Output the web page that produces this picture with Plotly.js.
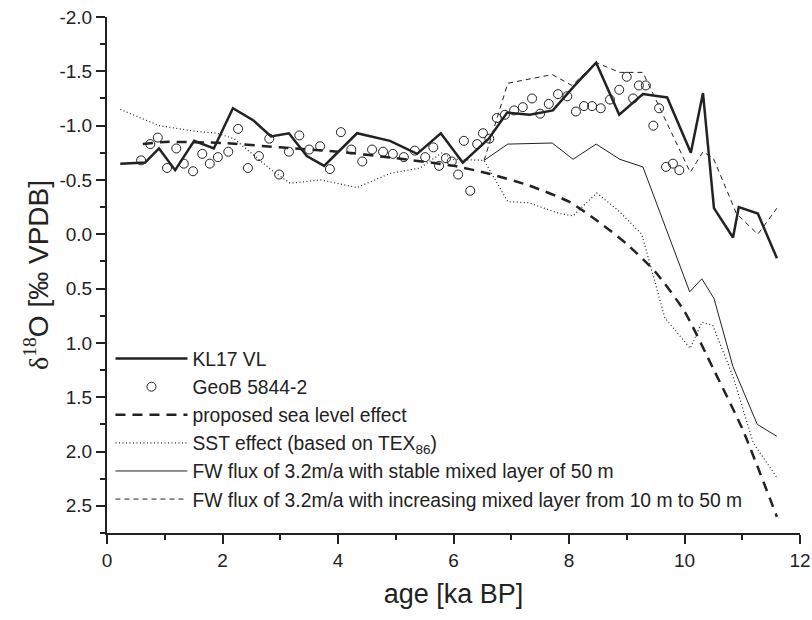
<!DOCTYPE html>
<html>
<head>
<meta charset="utf-8">
<script src="https://cdn.plot.ly/plotly-3.0.1.min.js"></script>
<style>html,body{margin:0;padding:0;background:#fff;}#chart{width:812px;height:620px;}</style>
</head>
<body>
<div id="chart"></div>
<script>
// KL17 VL
const kl17Age = [0.23,0.66,0.90,1.18,1.51,1.85,2.18,2.53,2.84,3.15,3.46,3.76,4.33,4.90,5.37,5.78,6.16,6.61,6.93,7.32,7.72,8.10,8.47,8.87,9.28,9.70,10.11,10.32,10.51,10.84,10.94,11.27,11.60];
const kl17Val = [-0.65,-0.66,-0.79,-0.59,-0.86,-0.79,-1.16,-1.05,-0.90,-0.93,-0.72,-0.63,-0.93,-0.86,-0.74,-0.93,-0.66,-0.88,-1.12,-1.10,-1.14,-1.37,-1.58,-1.10,-1.29,-1.26,-0.75,-1.30,-0.24,0.03,-0.25,-0.19,0.22];

// GeoB 5844-2
const geobAge = [0.59,0.75,0.88,1.04,1.20,1.33,1.49,1.65,1.78,1.92,2.10,2.27,2.44,2.63,2.81,2.98,3.15,3.33,3.50,3.69,3.86,4.05,4.23,4.42,4.59,4.78,4.95,5.14,5.33,5.51,5.65,5.75,5.87,5.97,6.08,6.18,6.29,6.41,6.51,6.62,6.75,6.89,7.05,7.20,7.36,7.50,7.65,7.81,7.97,8.12,8.26,8.40,8.55,8.71,8.87,9.00,9.11,9.21,9.33,9.46,9.56,9.68,9.80,9.91];
const geobVal = [-0.68,-0.83,-0.89,-0.61,-0.79,-0.65,-0.58,-0.74,-0.65,-0.71,-0.76,-0.97,-0.61,-0.72,-0.88,-0.55,-0.76,-0.91,-0.78,-0.81,-0.60,-0.94,-0.78,-0.67,-0.78,-0.76,-0.74,-0.71,-0.77,-0.71,-0.80,-0.63,-0.70,-0.67,-0.55,-0.86,-0.40,-0.83,-0.93,-0.88,-1.07,-1.10,-1.14,-1.17,-1.25,-1.11,-1.20,-1.29,-1.27,-1.13,-1.18,-1.18,-1.16,-1.24,-1.33,-1.45,-1.25,-1.37,-1.37,-1.00,-1.16,-0.62,-0.65,-0.59];

// proposed sea level effect
const seaAge = [0.62,1.0,2.0,3.0,4.0,5.0,6.0,6.6,7.3,8.0,8.5,9.0,9.5,10.0,10.5,11.0,11.6];
const seaVal = [-0.83,-0.85,-0.84,-0.80,-0.76,-0.70,-0.63,-0.56,-0.45,-0.30,-0.12,0.09,0.35,0.71,1.24,1.79,2.60];

// SST effect (based on TEX86)
const sstAge = [0.23,0.9,1.5,1.9,2.2,2.85,3.17,3.7,4.33,4.9,5.42,5.8,6.0,6.53,6.94,7.3,7.84,8.07,8.48,8.85,9.26,9.45,9.66,10.1,10.3,10.49,10.84,11.19,11.6];
const sstVal = [-1.15,-1.0,-0.95,-0.93,-0.88,-0.59,-0.47,-0.50,-0.43,-0.56,-0.61,-0.75,-0.69,-0.68,-0.30,-0.29,-0.19,-0.17,-0.38,-0.22,0.0,0.36,0.77,1.05,0.81,0.84,1.31,1.92,2.24];

// FW flux, stable mixed layer of 50 m
const fwStableAge = [6.53,6.94,7.71,8.07,8.47,8.88,9.28,10.09,10.30,10.51,10.84,11.26,11.60];
const fwStableVal = [-0.68,-0.83,-0.84,-0.69,-0.83,-0.69,-0.62,0.53,0.41,0.59,1.22,1.75,1.86];

// FW flux, increasing mixed layer 10 m to 50 m
const fwIncAge = [6.53,6.94,7.71,8.05,8.47,8.88,9.28,10.10,10.32,10.50,10.90,11.27,11.60];
const fwIncVal = [-0.68,-1.39,-1.47,-1.37,-1.58,-1.49,-1.49,-0.57,-0.76,-0.70,-0.19,0.0,-0.24];

// tick labels (hyphen minus as in the original)
const yTickVals = [-2.0,-1.5,-1.0,-0.5,0.0,0.5,1.0,1.5,2.0,2.5];
const yTickText = ['-2.0','-1.5','-1.0','-0.5','0.0','0.5','1.0','1.5','2.0','2.5'];
const xTickVals = [0,2,4,6,8,10,12];
const xTickText = ['0','2','4','6','8','10','12'];

const names = ['KL17 VL','GeoB 5844-2','proposed sea level effect','SST effect (based on TEX<sub>86</sub>)','FW flux of 3.2m/a with stable mixed layer of 50 m','FW flux of 3.2m/a with increasing mixed layer from 10 m to 50 m'];

const ink = '#222';
const traces = [
  {x: kl17Age, y: kl17Val, name: names[0], mode: 'lines', line: {color: ink, width: 2.5}},
  {x: geobAge, y: geobVal, name: names[1], mode: 'markers', marker: {symbol: 'circle-open', size: 9, color: ink, line: {width: 1, color: ink}}},
  {x: seaAge, y: seaVal, name: names[2], mode: 'lines', line: {color: ink, width: 2.5, dash: '10px,7px', shape: 'spline', smoothing: 0.6}},
  {x: sstAge, y: sstVal, name: names[3], mode: 'lines', line: {color: ink, width: 1.2, dash: '1px,2.5px'}},
  {x: fwStableAge, y: fwStableVal, name: names[4], mode: 'lines', line: {color: ink, width: 1}},
  {x: fwIncAge, y: fwIncVal, name: names[5], mode: 'lines', line: {color: ink, width: 1, dash: '5px,4px'}}
];

const font = {family: '"Liberation Sans", Arial, sans-serif', size: 19, color: '#222'};
const legendFont = {family: font.family, size: 19.3, color: '#222'};
const layout = {
  width: 812, height: 620,
  margin: {l: 107, r: 12, t: 17, b: 87},
  paper_bgcolor: '#fff', plot_bgcolor: '#fff',
  font: font,
  showlegend: true,
  legend: {x: 0.005, y: 0.028, xanchor: 'left', yanchor: 'bottom', bgcolor: 'rgba(0,0,0,0)', font: legendFont, itemwidth: 72, tracegroupgap: 0},
  xaxis: {
    range: [0, 12], tickmode: 'array', tickvals: xTickVals, ticktext: xTickText,
    showgrid: false, zeroline: false,
    showline: true, linecolor: ink, linewidth: 2,
    ticks: 'outside', ticklen: 9, tickwidth: 2, tickcolor: ink,
    minor: {dtick: 1, tick0: 0, ticks: 'outside', ticklen: 5, tickwidth: 2, tickcolor: ink},
    tickfont: font,
    title: {text: 'age [ka BP]', font: {family: font.family, size: 27, color: '#222'}, standoff: 14}
  },
  yaxis: {
    range: [2.75, -2.0], tickmode: 'array', tickvals: yTickVals, ticktext: yTickText,
    showgrid: false, zeroline: false,
    showline: true, linecolor: ink, linewidth: 2,
    ticks: 'outside', ticklen: 9, tickwidth: 2, tickcolor: ink,
    minor: {dtick: 0.25, tick0: 0, ticks: 'outside', ticklen: 5, tickwidth: 2, tickcolor: ink},
    tickfont: font,
    title: {text: '<span style="font-family:\'Liberation Serif\'">δ<sup>18</sup></span>O [‰ VPDB]', font: {family: font.family, size: 28, color: '#222'}, standoff: 3}
  }
};

Plotly.newPlot('chart', traces, layout, {displayModeBar: false, staticPlot: true});
</script>
</body>
</html>
